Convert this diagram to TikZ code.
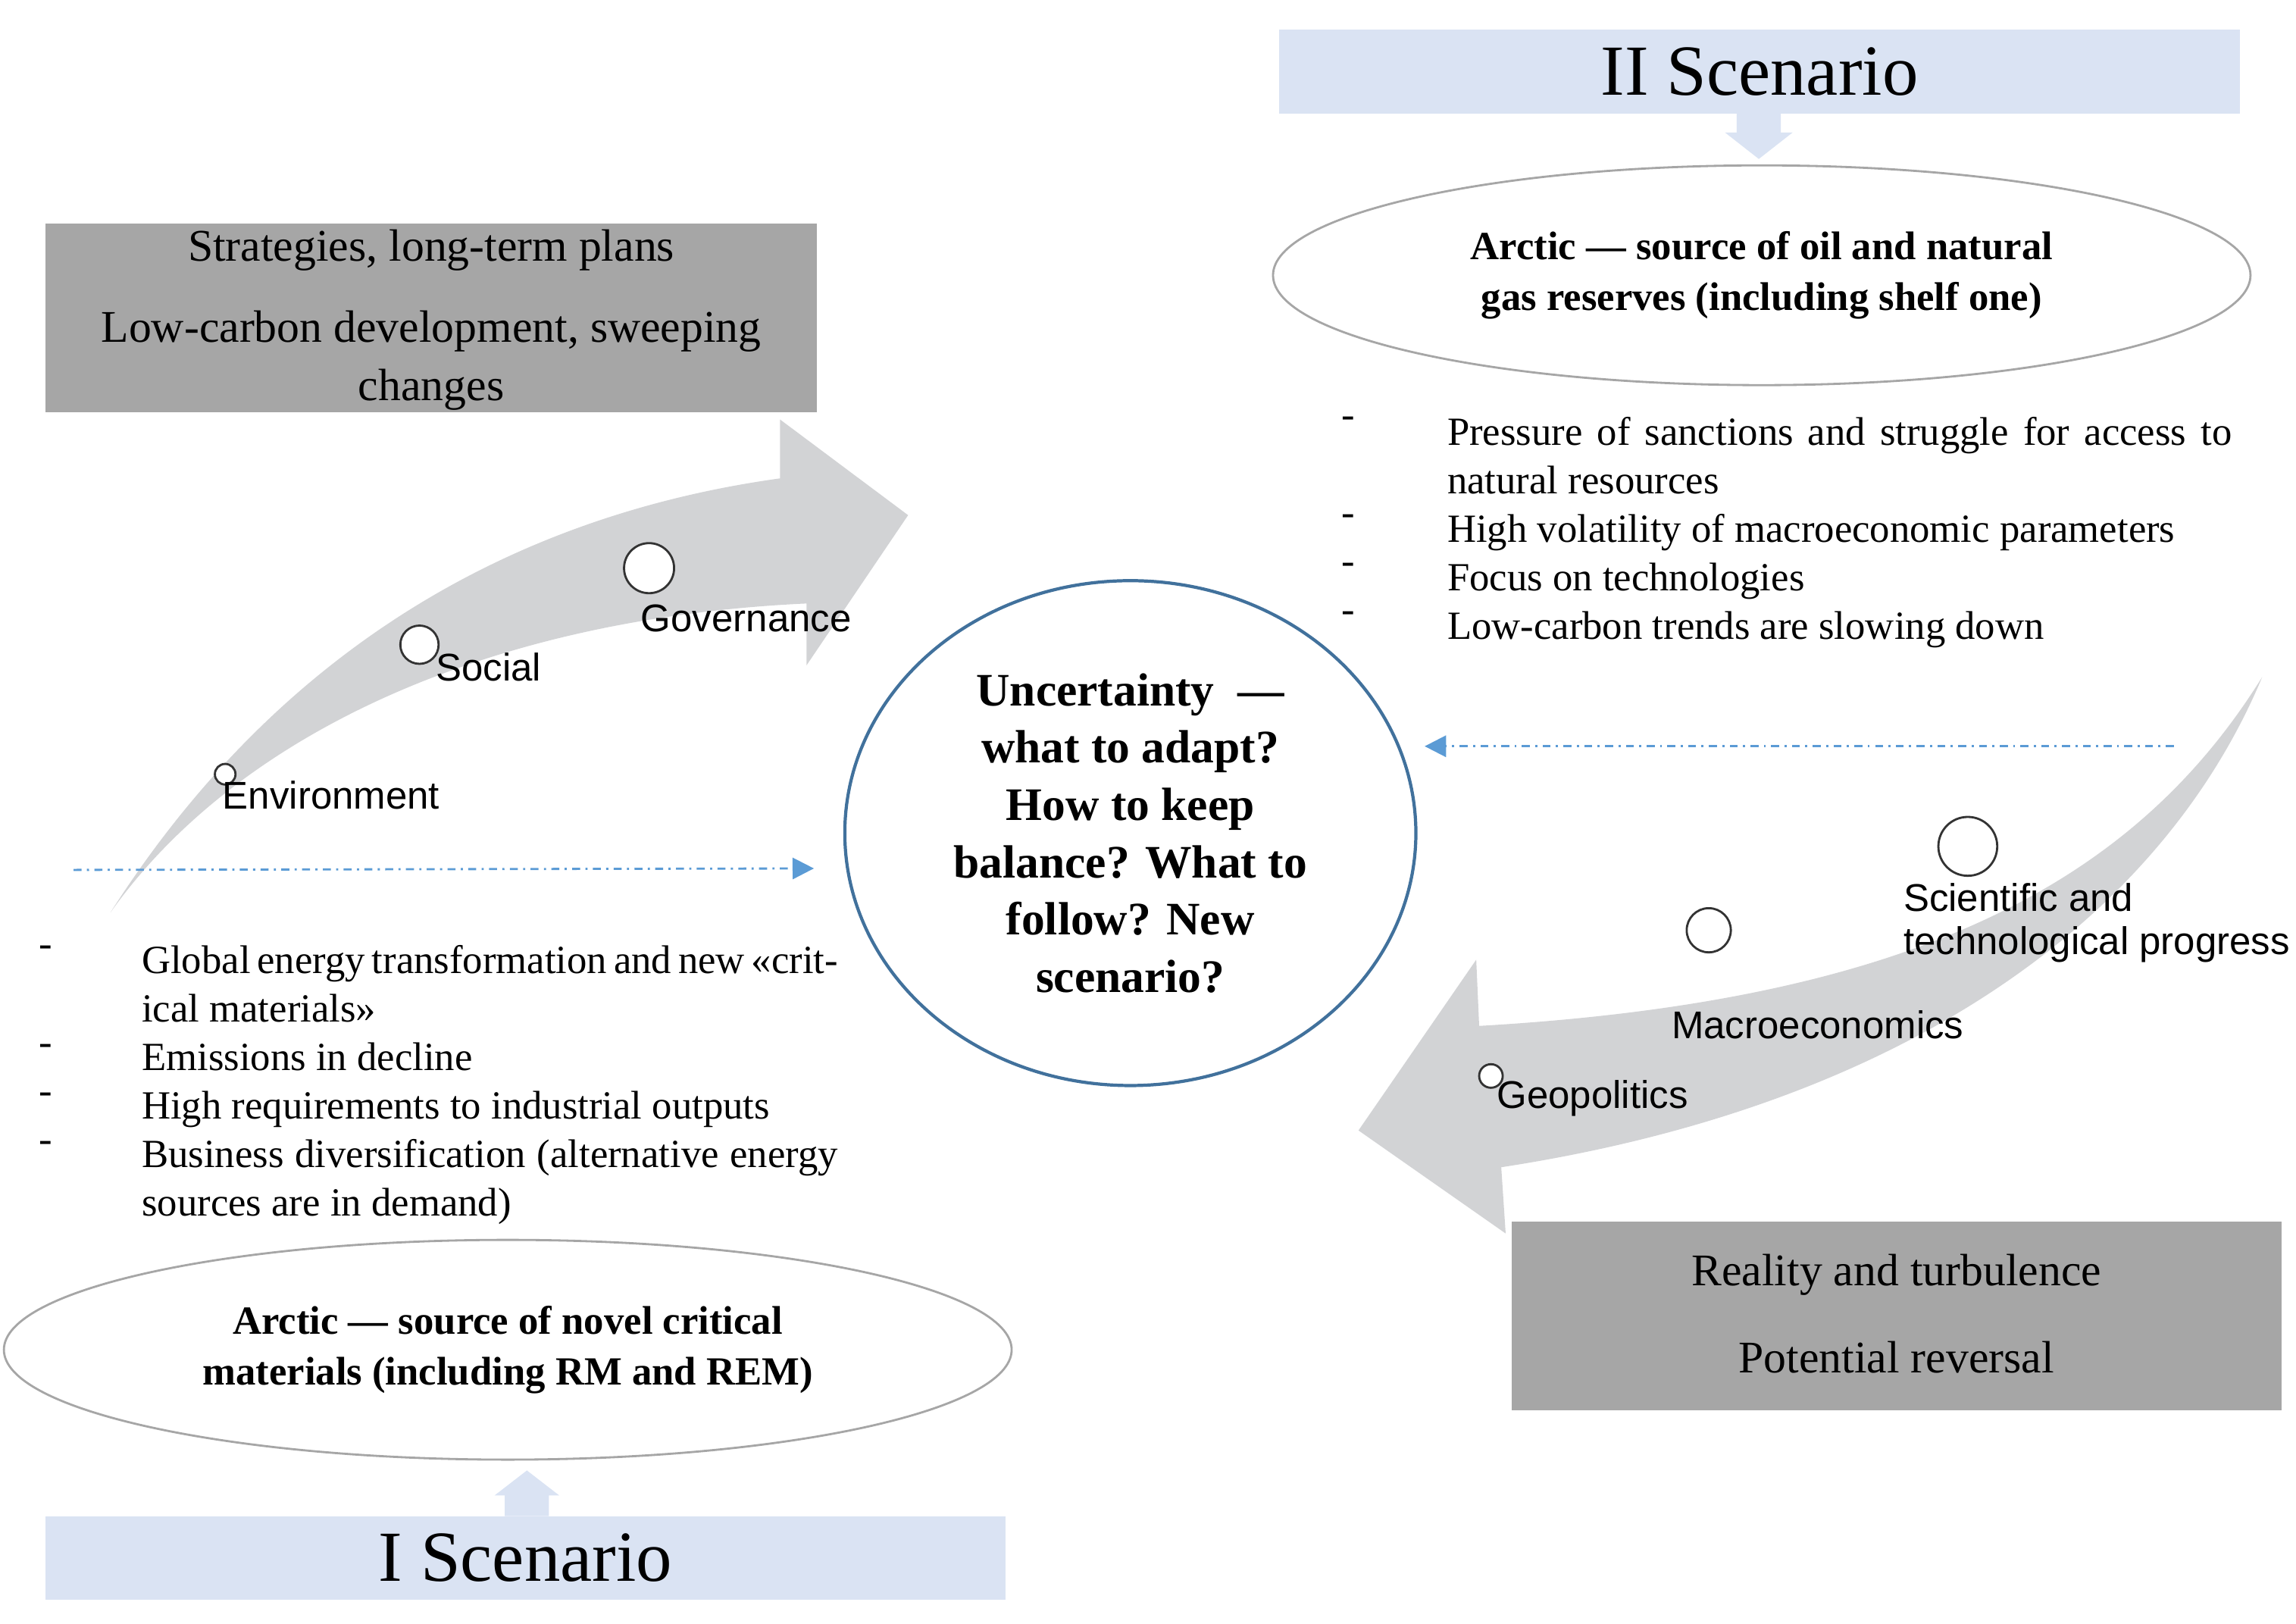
\documentclass[tikz,border=0pt]{standalone}
\usepackage{fontspec}
\setmainfont{Liberation Serif}
\newfontfamily\lab{Liberation Sans}
\usetikzlibrary{arrows.meta,shapes.geometric}
\definecolor{lblue}{HTML}{DAE3F3}
\definecolor{dgray}{HTML}{A6A6A6}
\definecolor{agray}{HTML}{D2D3D5}
\definecolor{cblue}{HTML}{41719C}
\definecolor{dblue}{HTML}{5B9BD5}
\tikzset{
 scen/.style={fill=lblue,draw=none,inner sep=0},
 gbox/.style={fill=dgray,draw=none},
 ell/.style={ellipse,draw=gray!70,line width=0.8pt,minimum width=12.9cm,minimum height=2.9cm,font=\fontsize{15}{19}\selectfont\bfseries,align=center},
 lst/.style={anchor=north west,font=\fontsize{15}{18.2}\selectfont,align=justify},
 dot/.style={circle,draw=black!80,line width=0.8pt,fill=white,inner sep=0},
 lbl/.style={font=\lab\fontsize{14.5}{16}\selectfont,inner sep=0},
 dsh/.style={dblue,line width=0.8pt,dash dot,-{Triangle[length=8pt,width=8pt]}},
 sarr/.style={fill=lblue,draw=none}
}
\begin{document}
\begin{tikzpicture}[x=0.01942cm,y=-0.01942cm]
\useasboundingbox (0,0) rectangle (1560,1103);
% II scenario
\fill[sarr] (1180,77) -- (1210,77) -- (1210,90) -- (1218,90) -- (1195,108) -- (1172,90) -- (1180,90) -- cycle;
\node[scen,minimum width=653*0.01942cm,minimum height=57*0.01942cm,font=\fontsize{27}{30}\selectfont] (s2) at (1195.5,48.5) {II Scenario};
\node[ell] (e2) at (1197,187) {Arctic — source of oil and natural\\gas reserves (including shelf one)};
% left gray box
\node[gbox,minimum width=524*0.01942cm,minimum height=128*0.01942cm] (g1) at (293,216) {};
\node[font=\fontsize{17}{20}\selectfont] (g1a) at (293,170) {Strategies, long-term plans};
\node[font=\fontsize{17}{20}\selectfont,align=center] (g1b) at (293,245) {Low-carbon development, sweeping\\[2pt]changes};
% left arrow
\fill[agray] (75,620) .. controls (190,440) and (350,350) .. (530,325) -- (530,285) -- (617,350) -- (548,452) -- (548,410) .. controls (330,420) and (160,500) .. (75,620) -- cycle;
\node[dot,minimum size=34*0.01942cm] (c1) at (441,386) {};
\node[dot,minimum size=26*0.01942cm] (c2) at (285,438) {};
\node[dot,minimum size=14*0.01942cm] (c3) at (153,526) {};
\node[lbl] (l1) at (507,420) {Governance};
\node[lbl] (l2) at (332,453) {Social};
\node[lbl] (l3) at (225,540) {Environment};
\coordinate (d1a) at (50,591);
\coordinate (d1b) at (553,590);
\draw[dsh] (d1a) -- (d1b);
% left list
\foreach \y in {650,717,750,783} \node[lst] at (20,\y-14) {-};
\node[lst,text width=473*0.01942cm] (L) at (90,636) {Global energy transformation and new «critical materials»\\Emissions in decline\\High requirements to industrial outputs\\Business diversification (alternative energy sources are in demand)};
\node[ell,minimum width=13.3cm] (e1) at (345,917) {Arctic — source of novel critical\\materials (including RM and REM)};
\fill[sarr] (343,1030) -- (343,1016) -- (336,1016) -- (358,999) -- (380,1016) -- (373,1016) -- (373,1030) -- cycle;
\node[scen,minimum width=652*0.01942cm,minimum height=57*0.01942cm,font=\fontsize{27}{30}\selectfont] (s1) at (357,1058.5) {I Scenario};
% center
\node[ellipse,draw=cblue,line width=1.2pt,minimum width=388*0.01942cm,minimum height=343*0.01942cm,font=\fontsize{17.5}{21.5}\selectfont\bfseries,align=center] (C) at (768,566) {Uncertainty \ —\\what to adapt?\\How to keep\\balance? What to\\follow? New\\scenario?};
% right list
\foreach \y in {291,357,390,423} \node[lst] at (905,\y-14) {-};
\node[lst,text width=533*0.01942cm] (R) at (977,277) {Pressure of sanctions and struggle for access to natural resources\\High volatility of macroeconomic parameters\\Focus on technologies\\Low-carbon trends are slowing down};
\coordinate (d2a) at (1477,507);
\coordinate (d2b) at (968,507);
\draw[dsh] (d2a) -- (d2b);
% right arrow
\fill[agray] (1537,460) .. controls (1450,600) and (1300,680) .. (1005,697) -- (1003,652) -- (923,768) -- (1023,838) -- (1020,793) .. controls (1300,750) and (1470,620) .. (1537,460) -- cycle;
\node[dot,minimum size=40*0.01942cm] (c4) at (1337,575) {};
\node[dot,minimum size=30*0.01942cm] (c5) at (1161,632) {};
\node[dot,minimum size=16*0.01942cm] (c6) at (1013,731) {};
\node[lbl,anchor=west,align=left] (l4) at (1293,627) {Scientific and\\technological progress};
\node[lbl] (l5) at (1235,696) {Macroeconomics};
\node[lbl] (l6) at (1082,746) {Geopolitics};
% right gray box
\node[gbox,minimum width=523*0.01942cm,minimum height=128*0.01942cm] (g2) at (1288.5,894) {};
\node[font=\fontsize{17}{20}\selectfont] (g2a) at (1288.5,866) {Reality and turbulence};
\node[font=\fontsize{17}{20}\selectfont] (g2b) at (1288.5,922) {Potential reversal};
\end{tikzpicture}
\end{document}
